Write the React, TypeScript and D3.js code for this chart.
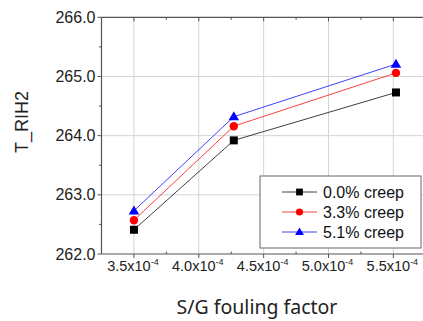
import React from "react";
import * as d3 from "d3";

const xValues = [3.5, 4.27, 5.52]; // x 10^-4
const series = [
  { name: "0.0% creep", color: "#000000", shape: "square", values: [262.41, 263.92, 264.73] },
  { name: "3.3% creep", color: "#ff0000", shape: "circle", values: [262.57, 264.16, 265.06] },
  { name: "5.1% creep", color: "#0000ff", shape: "triangle", values: [262.73, 264.32, 265.21] },
];
const xTicks = [3.5, 4.0, 4.5, 5.0, 5.5];
const xMinor = [3.25, 3.75, 4.25, 4.75, 5.25];
const yTicks = [262, 263, 264, 265, 266];
const yMinor = [262.5, 263.5, 264.5, 265.5];

const W = 423, H = 321;
const L = 101.5, T = 17.3, B = 254, R = 425.8;

function Marker({ shape, x, y, color, s = 1 }: any) {
  if (shape === "square") return <rect x={x - 4 * s} y={y - 4 * s} width={8 * s} height={8 * s} fill={color} />;
  if (shape === "circle") return <circle cx={x} cy={y} r={4.2 * s} fill={color} />;
  const h = 9 * s, w = 10.5 * s;
  return <path d={`M${x},${y - h * 0.6}L${x + w / 2},${y + h * 0.4}L${x - w / 2},${y + h * 0.4}Z`} fill={color} />;
}

export default function App() {
  const x = d3.scaleLinear().domain([3.25, 5.75]).range([L, R]);
  const y = d3.scaleLinear().domain([262, 266]).range([B, T]);
  const line = d3.line<number>().x((_, i) => x(xValues[i])).y((d) => y(d));
  const axisColor = "#555";
  const font = "Liberation Sans, Arial, sans-serif";
  return (
    <svg width={W} height={H} style={{ position: "absolute", left: 0, top: 0, background: "#fff" }}>
      {/* grid */}
      {xTicks.map((t) => (
        <line key={"gx" + t} x1={x(t)} x2={x(t)} y1={T} y2={B} stroke="#d4d4d4" strokeWidth={1} />
      ))}
      {yTicks.slice(1, -1).map((t) => (
        <line key={"gy" + t} x1={L} x2={W} y1={y(t)} y2={y(t)} stroke="#d4d4d4" strokeWidth={1} />
      ))}
      {/* axes */}
      <line x1={L} x2={L} y1={T} y2={B} stroke={axisColor} strokeWidth={1.2} />
      <line x1={L} x2={W} y1={B} y2={B} stroke={axisColor} strokeWidth={1.2} />
      <line x1={L} x2={W} y1={T} y2={T} stroke={axisColor} strokeWidth={1.2} />
      {yTicks.map((t) => (
        <g key={"yt" + t}>
          <line x1={L - 4} x2={L} y1={y(t)} y2={y(t)} stroke={axisColor} />
          <text x={L - 6} y={y(t)} dy="0.35em" textAnchor="end" fontFamily={font} fontSize={16} fill="#222">
            {t.toFixed(1)}
          </text>
        </g>
      ))}
      {yMinor.map((t) => (
        <line key={"ym" + t} x1={L - 2.5} x2={L} y1={y(t)} y2={y(t)} stroke={axisColor} />
      ))}
      {xTicks.map((t) => (
        <g key={"xt" + t}>
          <line x1={x(t)} x2={x(t)} y1={B} y2={B + 4} stroke={axisColor} />
          <line x1={x(t)} x2={x(t)} y1={T} y2={T + 4} stroke={axisColor} />
          <text x={x(t) - 1} y={B + 17} textAnchor="middle" fontFamily={font} fontSize={14.5} fill="#222">
            {t.toFixed(1) + "x10"}
            <tspan dy={-6} fontSize={9}>-4</tspan>
          </text>
        </g>
      ))}
      {xMinor.map((t) => (
        <g key={"xm" + t}>
          <line x1={x(t)} x2={x(t)} y1={B - 2.5} y2={B} stroke={axisColor} />
          <line x1={x(t)} x2={x(t)} y1={T} y2={T + 2.5} stroke={axisColor} />
        </g>
      ))}
      {/* series */}
      {series.map((s) => (
        <g key={s.name}>
          <path d={line(s.values) || ""} fill="none" stroke={s.color} strokeWidth={1} strokeOpacity={0.75} />
          {s.values.map((v, i) => (
            <Marker key={i} shape={s.shape} x={x(xValues[i])} y={y(v)} color={s.color} />
          ))}
        </g>
      ))}
      {/* legend */}
      <rect x={260} y={176} width={161} height={72} fill="#fff" stroke="#666" strokeWidth={1} />
      {series.map((s, i) => {
        const ly = 192 + i * 20;
        return (
          <g key={"lg" + i}>
            <line x1={282} x2={317} y1={ly} y2={ly} stroke={s.color} strokeWidth={1} strokeOpacity={0.75} />
            <Marker shape={s.shape} x={299.5} y={ly} color={s.color} s={0.85} />
            <text x={323} y={ly} dy="0.35em" fontFamily={font} fontSize={16} fill="#111">
              {s.name}
            </text>
          </g>
        );
      })}
      {/* axis titles */}
      <text transform="translate(28,122) rotate(-90)" textAnchor="middle" fontFamily={font} fontSize={18} fill="#222">
        T_RIH2
      </text>
      <text x={257} y={314} textAnchor="middle" fontFamily="Noto Sans, sans-serif" fontSize={19.5} fill="#222">
        S/G fouling factor
      </text>
    </svg>
  );
}
